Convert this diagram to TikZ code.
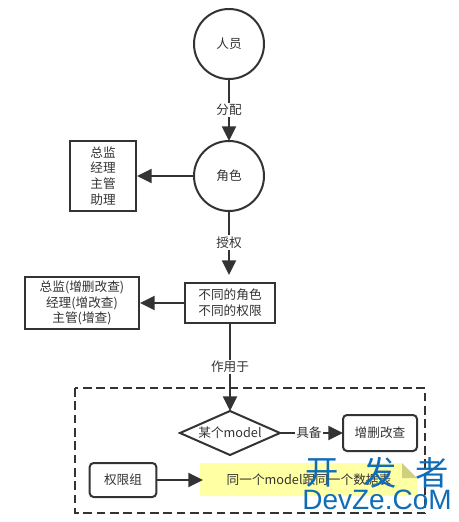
\documentclass[tikz,border=0pt]{standalone}
\usepackage{fontspec}
\setmainfont{Noto Sans CJK SC}
\newfontfamily\wmlatin{Liberation Sans}
\usetikzlibrary{arrows.meta,shapes.geometric}
\definecolor{ink}{HTML}{333333}
\definecolor{wm}{HTML}{0F6DB8}
\definecolor{notefill}{HTML}{FFFFA3}
\definecolor{notefold}{HTML}{CFCF80}
\tikzset{
 x=0.75pt,y=-0.75pt,
 every node/.style={font=\fontsize{9.5pt}{11.8pt}\selectfont,text=ink,align=center,inner sep=0pt,outer sep=0pt},
 flow/.style={draw=ink,line width=1.6pt,-{Triangle[length=11pt,width=10.5pt]}},
 circ/.style={circle,draw=ink,line width=1.5pt,minimum size=52.5pt},
 sq/.style={draw=ink,line width=1.5pt},
 rnd/.style={draw=ink,line width=1.5pt,rounded corners=3pt},
 lab/.style={fill=white,inner sep=1pt},
}
\begin{document}
\begin{tikzpicture}
\useasboundingbox (0,0) rectangle (459,522);
\fill[white] (0,0) rectangle (459,522);
\node[circ] (p) at (229,44) {人员};
\node[circ] (r) at (229,176) {角色};
\node[sq,minimum width=49.5pt,minimum height=52.5pt] (rl) at (103,176) {总监\\经理\\主管\\助理};
\node[sq,minimum width=67.5pt,minimum height=30pt] (d) at (230,303) {不同的角色\\不同的权限};
\node[sq,minimum width=85.5pt,minimum height=39pt] (dl) at (82,303) {总监(增删改查)\\经理(增改查)\\主管(增查)};
\draw[ink,line width=1.5pt,dash pattern=on 6.5pt off 3.5pt] (75,388) rectangle (425,513);
\node[diamond,draw=ink,line width=1.5pt,minimum width=75pt,minimum height=33pt,inner sep=0pt,aspect=2.27] (m) at (230,433) {某个model};
\node[rnd,minimum width=55.5pt,minimum height=27pt] (c) at (380,433) {增删改查};
\node[rnd,minimum width=50pt,minimum height=25.5pt] (g) at (123,480) {权限组};
\fill[notefill] (200,463) -- (402,463) -- (417,478) -- (417,496) -- (200,496) -- cycle;
\fill[notefold] (402,463) -- (417,478) -- (402,478) -- cycle;
\node (n) at (309,480) {同一个model跟同一个数据表};
\coordinate (nw) at (203,480);
\coordinate (a1) at (229,275);
\coordinate (a2) at (140,303);
\coordinate (a3) at (137,176);
\draw[flow] (p) -- node[lab] {分配} (r);
\draw[flow] (r) -- (a3);
\draw[flow] (r) -- node[lab,pos=.49] {授权} (a1);
\draw[flow] (d.west) -- (a2);
\draw[flow] (d) -- node[lab,pos=.5] {作用于} (m);
\draw[flow] (m) -- node[lab,pos=.46] {具备} (c);
\draw[flow] (g) -- (nw);
\node[text=wm,font=\fontsize{25pt}{25pt}\selectfont] (w1) at (322,473) {开};
\node[text=wm,font=\fontsize{25pt}{25pt}\selectfont] (w2) at (380,473) {发};
\node[text=wm,font=\fontsize{25pt}{25pt}\selectfont] (w3) at (432,473) {者};
\node[text=wm,font=\wmlatin\fontsize{21pt}{21pt}\selectfont] (w4) at (377,500) {DevZe.CoM};
\end{tikzpicture}
\end{document}
